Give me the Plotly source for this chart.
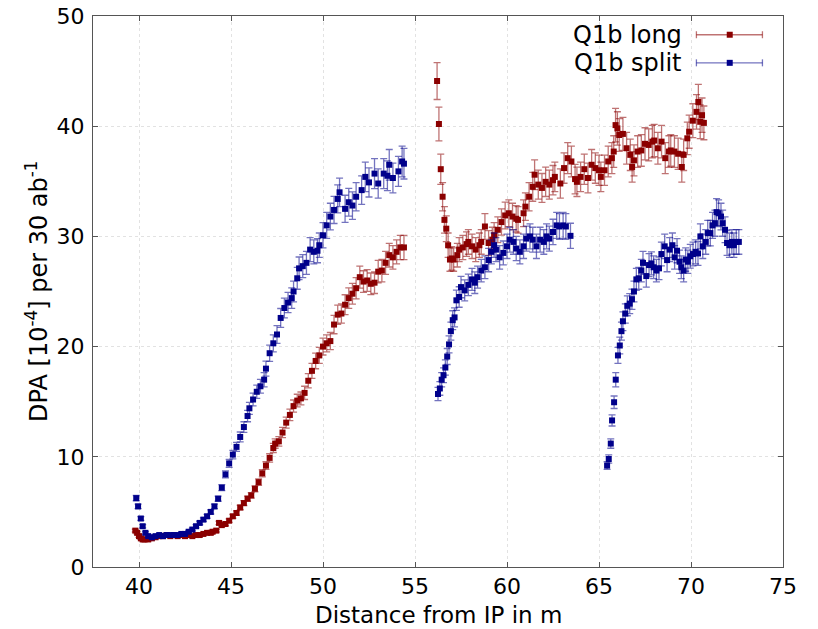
import plotly.graph_objects as go

# ---- data ----
long_x = [39.8, 39.9, 40.0, 40.1, 40.2, 40.3, 40.5, 40.7, 40.9, 41.1, 41.3, 41.5, 41.7, 41.9,
          42.1, 42.3, 42.5, 42.7, 42.9, 43.1, 43.3, 43.5, 43.7, 43.9, 44.0, 44.2, 44.35, 44.5,
          44.7, 44.9, 45.1, 45.3, 45.5, 45.7, 45.9, 46.1, 46.3, 46.5, 46.7, 46.9, 47.1, 47.3,
          47.4, 47.6, 47.8, 48.0, 48.2, 48.4, 48.6, 48.8, 49.0, 49.2, 49.4, 49.6, 49.8, 50.0,
          50.2, 50.4, 50.6, 50.8, 51.0, 51.2, 51.4, 51.6, 51.8, 52.0, 52.2, 52.4, 52.6, 52.8,
          53.0, 53.2, 53.4, 53.6, 53.8, 54.0, 54.2, 54.4,
          56.2, 56.3, 56.4, 56.5, 56.6, 56.7, 56.8, 56.9, 57.0, 57.1, 57.3, 57.4, 57.6, 57.8,
          57.9, 58.1, 58.3, 58.5, 58.6, 58.8, 59.0, 59.2, 59.3, 59.5, 59.7, 59.9, 60.1, 60.3,
          60.5, 60.6, 60.9, 61.0, 61.2, 61.4, 61.5, 61.7, 61.9, 62.1, 62.3, 62.5, 62.6, 62.9,
          63.1, 63.3, 63.5, 63.7, 63.8, 64.0, 64.2, 64.4, 64.6, 64.8, 65.0, 65.1, 65.3, 65.5,
          65.7, 65.8, 65.9, 66.0, 66.1, 66.3, 66.5, 66.7, 66.8, 66.9, 67.1, 67.3, 67.5, 67.7,
          67.9, 68.0, 68.2, 68.4, 68.6, 68.8, 68.9, 69.1, 69.3, 69.5, 69.6, 69.8, 69.9, 70.1,
          70.3, 70.4, 70.5, 70.6, 70.7]
long_y = [3.3, 3.1, 2.8, 2.6, 2.5, 2.5, 2.5, 2.6, 2.7, 2.8, 2.8, 2.9, 2.8, 2.9,
          2.8, 2.9, 2.8, 2.9, 2.8, 2.9, 2.9, 3.0, 3.1, 3.1, 3.2, 3.3, 4.0, 3.8,
          3.9, 4.2, 4.6, 4.9, 5.4, 5.8, 6.2, 6.5, 7.1, 7.7, 8.5, 9.2, 9.9, 10.8,
          11.2, 11.4, 12.2, 13.1, 13.8, 14.6, 15.1, 15.3, 15.8, 16.9, 17.8, 18.7, 19.2, 20.0,
          20.3, 20.5, 22.0, 22.9, 23.0, 23.8, 24.4, 24.8, 25.3, 26.3, 25.9, 26.0, 25.7, 25.8,
          26.8, 26.9, 27.6, 28.3, 28.1, 28.6, 29.0, 29.0,
          44.1, 40.2, 36.1, 33.6, 31.5, 30.7, 29.2, 27.9, 28.0, 27.9, 28.3, 28.8, 29.0, 29.3,
          29.5, 29.1, 28.8, 29.2, 29.5, 30.9, 29.4, 29.7, 30.1, 30.6, 31.3, 31.9, 32.1, 31.8,
          31.6, 31.5, 32.1, 32.7, 33.6, 34.5, 35.6, 34.7, 34.4, 34.95, 34.7, 35.1, 35.4, 34.8,
          36.2, 37.1, 36.8, 35.2, 34.95, 35.4, 36.1, 35.3, 36.5, 36.2, 36.0, 35.4, 36.0, 36.8,
          37.1, 37.7, 40.1, 39.8, 39.2, 39.3, 38.0, 37.4, 36.3, 36.9, 37.7, 37.8, 38.4, 38.3,
          38.6, 38.7, 38.0, 38.6, 37.1, 37.7, 37.8, 37.7, 37.5, 36.3, 37.4, 38.9, 39.5, 40.5,
          41.3, 42.2, 40.4, 41.0, 40.3]

split_x = [39.85, 39.95, 40.1, 40.2, 40.35, 40.5, 40.7, 40.9, 41.1, 41.3, 41.5, 41.7, 41.9,
           42.1, 42.3, 42.5, 42.7, 42.9, 43.1, 43.3, 43.5, 43.7, 43.9, 44.1, 44.3, 44.5, 44.7,
           44.9, 45.1, 45.3, 45.5, 45.7, 45.9, 46.0, 46.2, 46.4, 46.6, 46.8, 46.9, 47.1, 47.3,
           47.5, 47.7, 47.9, 48.1, 48.3, 48.4, 48.6, 48.7, 48.9, 49.1, 49.3, 49.5, 49.7, 49.8,
           50.0, 50.2, 50.4, 50.6, 50.8, 50.9, 51.2, 51.4, 51.6, 51.8, 52.1, 52.3, 52.5, 52.8,
           53.0, 53.3, 53.5, 53.6, 53.8, 54.1, 54.3, 54.4,
           56.25, 56.35, 56.45, 56.55, 56.65, 56.75, 56.85, 56.95, 57.05, 57.15, 57.25, 57.4,
           57.5, 57.7, 57.9, 58.1, 58.25, 58.4, 58.6, 58.8, 59.0, 59.15, 59.3, 59.4, 59.6, 59.8,
           60.0, 60.15, 60.35, 60.5, 60.7, 60.9, 61.05, 61.25, 61.4, 61.6, 61.8, 62.0, 62.15,
           62.3, 62.5, 62.7, 62.85, 63.05, 63.2, 63.45,
           65.44, 65.53, 65.64, 65.71, 65.82, 65.91, 66.03, 66.13, 66.22, 66.3, 66.43, 66.54,
           66.67, 66.79, 66.9, 67.03, 67.16, 67.3, 67.39, 67.57, 67.72, 67.85, 67.97, 68.12,
           68.26, 68.39, 68.57, 68.7, 68.84, 68.99, 69.11, 69.24, 69.38, 69.47, 69.6, 69.71,
           69.83, 69.96, 70.11, 70.25, 70.38, 70.51, 70.64, 70.8, 70.91, 71.05, 71.17, 71.3,
           71.39, 71.5, 71.63, 71.72, 71.85, 71.96, 72.09, 72.22, 72.33, 72.46, 72.6]
split_y = [6.25, 5.5, 4.4, 3.7, 3.1, 2.8, 2.7, 2.8, 2.9, 2.8, 2.9, 2.9, 2.9,
           2.9, 3.0, 3.0, 3.2, 3.4, 3.7, 4.0, 4.3, 4.6, 5.0, 5.5, 6.2, 7.2, 8.4,
           9.4, 10.2, 10.9, 11.8, 12.7, 13.7, 14.4, 15.2, 15.9, 16.4, 17.0, 18.0, 19.4, 20.3,
           21.1, 22.6, 23.5, 24.0, 24.4, 25.0, 26.2, 27.1, 27.3, 27.6, 28.8, 28.6, 28.7, 29.2,
           30.1, 31.0, 31.8, 32.4, 33.4, 34.0, 32.5, 33.1, 32.8, 33.6, 34.2, 35.4, 34.9, 35.7,
           34.8, 35.7, 35.5, 36.5, 35.3, 35.9, 36.8, 36.6,
           15.7, 16.2, 17.0, 17.4, 18.1, 19.1, 20.2, 21.4, 22.4, 22.65, 24.2, 24.5,
           25.4, 25.1, 25.6, 26.1, 25.8, 26.3, 26.9, 27.2, 27.85, 28.6, 29.2, 28.8, 28.1, 28.5,
           29.1, 29.7, 29.5, 28.9, 28.6, 29.1, 29.8, 30.0, 29.7, 29.1, 29.7, 29.5, 30.0,
           29.8, 30.4, 31.0, 30.9, 31.0, 30.9, 30.05,
           9.2, 9.8, 11.2, 13.3, 14.95, 17.0, 19.2, 20.1, 21.4, 22.3, 23.0, 23.7,
           23.9, 24.3, 25.0, 26.1, 26.2, 26.9, 27.6, 26.4, 27.4, 27.55, 27.2, 26.9,
           27.1, 28.4, 29.1, 27.85, 28.8, 29.2, 28.1, 28.7, 27.7, 27.2, 26.9, 27.9,
           27.7, 28.2, 28.4, 28.6, 28.45, 30.0, 29.1, 29.5, 30.3, 30.3, 31.0, 31.2,
           32.2, 32.1, 31.8, 31.2, 30.6, 29.4, 29.2, 29.5, 29.2, 29.5, 29.5]

series_names = ["Q1b long", "Q1b split"]
marker_colors = ["#8b0000", "#00008b"]
err_colors = ["rgba(139,0,0,0.55)", "rgba(0,0,139,0.55)"]
err_percent = 3.8

x_ticks = [40, 45, 50, 55, 60, 65, 70, 75]
y_ticks = [0, 10, 20, 30, 40, 50]
x_title = "Distance from IP in m"
y_title = "DPA [10<sup>-4</sup>] per 30 ab<sup>-1</sup>"

FONT = "DejaVu Sans"
FS = 24
TICK_FS = 22
XT_FS = 23

fig = go.Figure()
for xs, ys, name, mc, ec in zip([long_x, split_x], [long_y, split_y], series_names,
                                marker_colors, err_colors):
    fig.add_trace(go.Scatter(
        x=xs, y=ys, mode="markers", name=name, showlegend=False,
        marker=dict(symbol="square", size=6, color=mc, line=dict(width=0)),
        error_y=dict(type="percent", value=err_percent, color=ec, thickness=1.3, width=3.5),
    ))

# ---- manual legend (text left, error-bar sample right) ----
leg_y = [0.966, 0.915]
for i, (name, mc, ec) in enumerate(zip(series_names, marker_colors, err_colors)):
    yy = leg_y[i]
    fig.add_annotation(x=0.856, y=yy, xref="paper", yref="paper", text=name,
                       showarrow=False, xanchor="right", yanchor="middle",
                       font=dict(family=FONT, size=FS, color="black"))
    fig.add_shape(type="line", xref="paper", yref="paper", x0=0.8745, x1=0.9702,
                  y0=yy, y1=yy, line=dict(color=ec, width=1.3))
    for xc in (0.8745, 0.9702):
        fig.add_shape(type="line", xref="paper", yref="paper", ysizemode="pixel",
                      yanchor=yy, x0=xc, x1=xc, y0=-3.5, y1=3.5,
                      line=dict(color=ec, width=1.3))
    fig.add_shape(type="rect", xref="paper", yref="paper", xsizemode="pixel",
                  ysizemode="pixel", xanchor=0.9228, yanchor=yy,
                  x0=-3, x1=3, y0=-3, y1=3, fillcolor=mc, line=dict(width=0))

# axis titles as annotations for exact placement
fig.add_annotation(x=0.5, y=-0.1121, xref="paper", yref="paper", text=x_title,
                   showarrow=False, xanchor="center", yanchor="bottom", borderpad=0,
                   font=dict(family=FONT, size=XT_FS, color="black"))
fig.add_annotation(x=-0.082, y=0.5, xref="paper", yref="paper", text=y_title,
                   textangle=-90, showarrow=False, xanchor="center", yanchor="middle",
                   font=dict(family=FONT, size=FS, color="black"))

axis_common = dict(
    showline=True, linecolor="#555555", linewidth=1, mirror="ticks",
    ticks="inside", ticklen=5, tickcolor="#555555",
    showgrid=True, gridcolor="#e2e2e2", griddash="dot", gridwidth=1,
    zeroline=False, automargin=False,
    tickfont=dict(family=FONT, size=TICK_FS, color="black"),
)

fig.update_layout(
    width=818, height=629,
    margin=dict(l=93, r=35, t=16, b=62),
    paper_bgcolor="white", plot_bgcolor="white",
    font=dict(family=FONT, size=FS, color="black"),
    xaxis=dict(range=[37.5, 75], tickvals=x_ticks, ticktext=[str(v) for v in x_ticks],
               ticklabelstandoff=0, **axis_common),
    yaxis=dict(range=[0, 50], tickvals=y_ticks, ticktext=[str(v) for v in y_ticks],
               ticklabelstandoff=3, **axis_common),
)

fig.write_html("out.html")
